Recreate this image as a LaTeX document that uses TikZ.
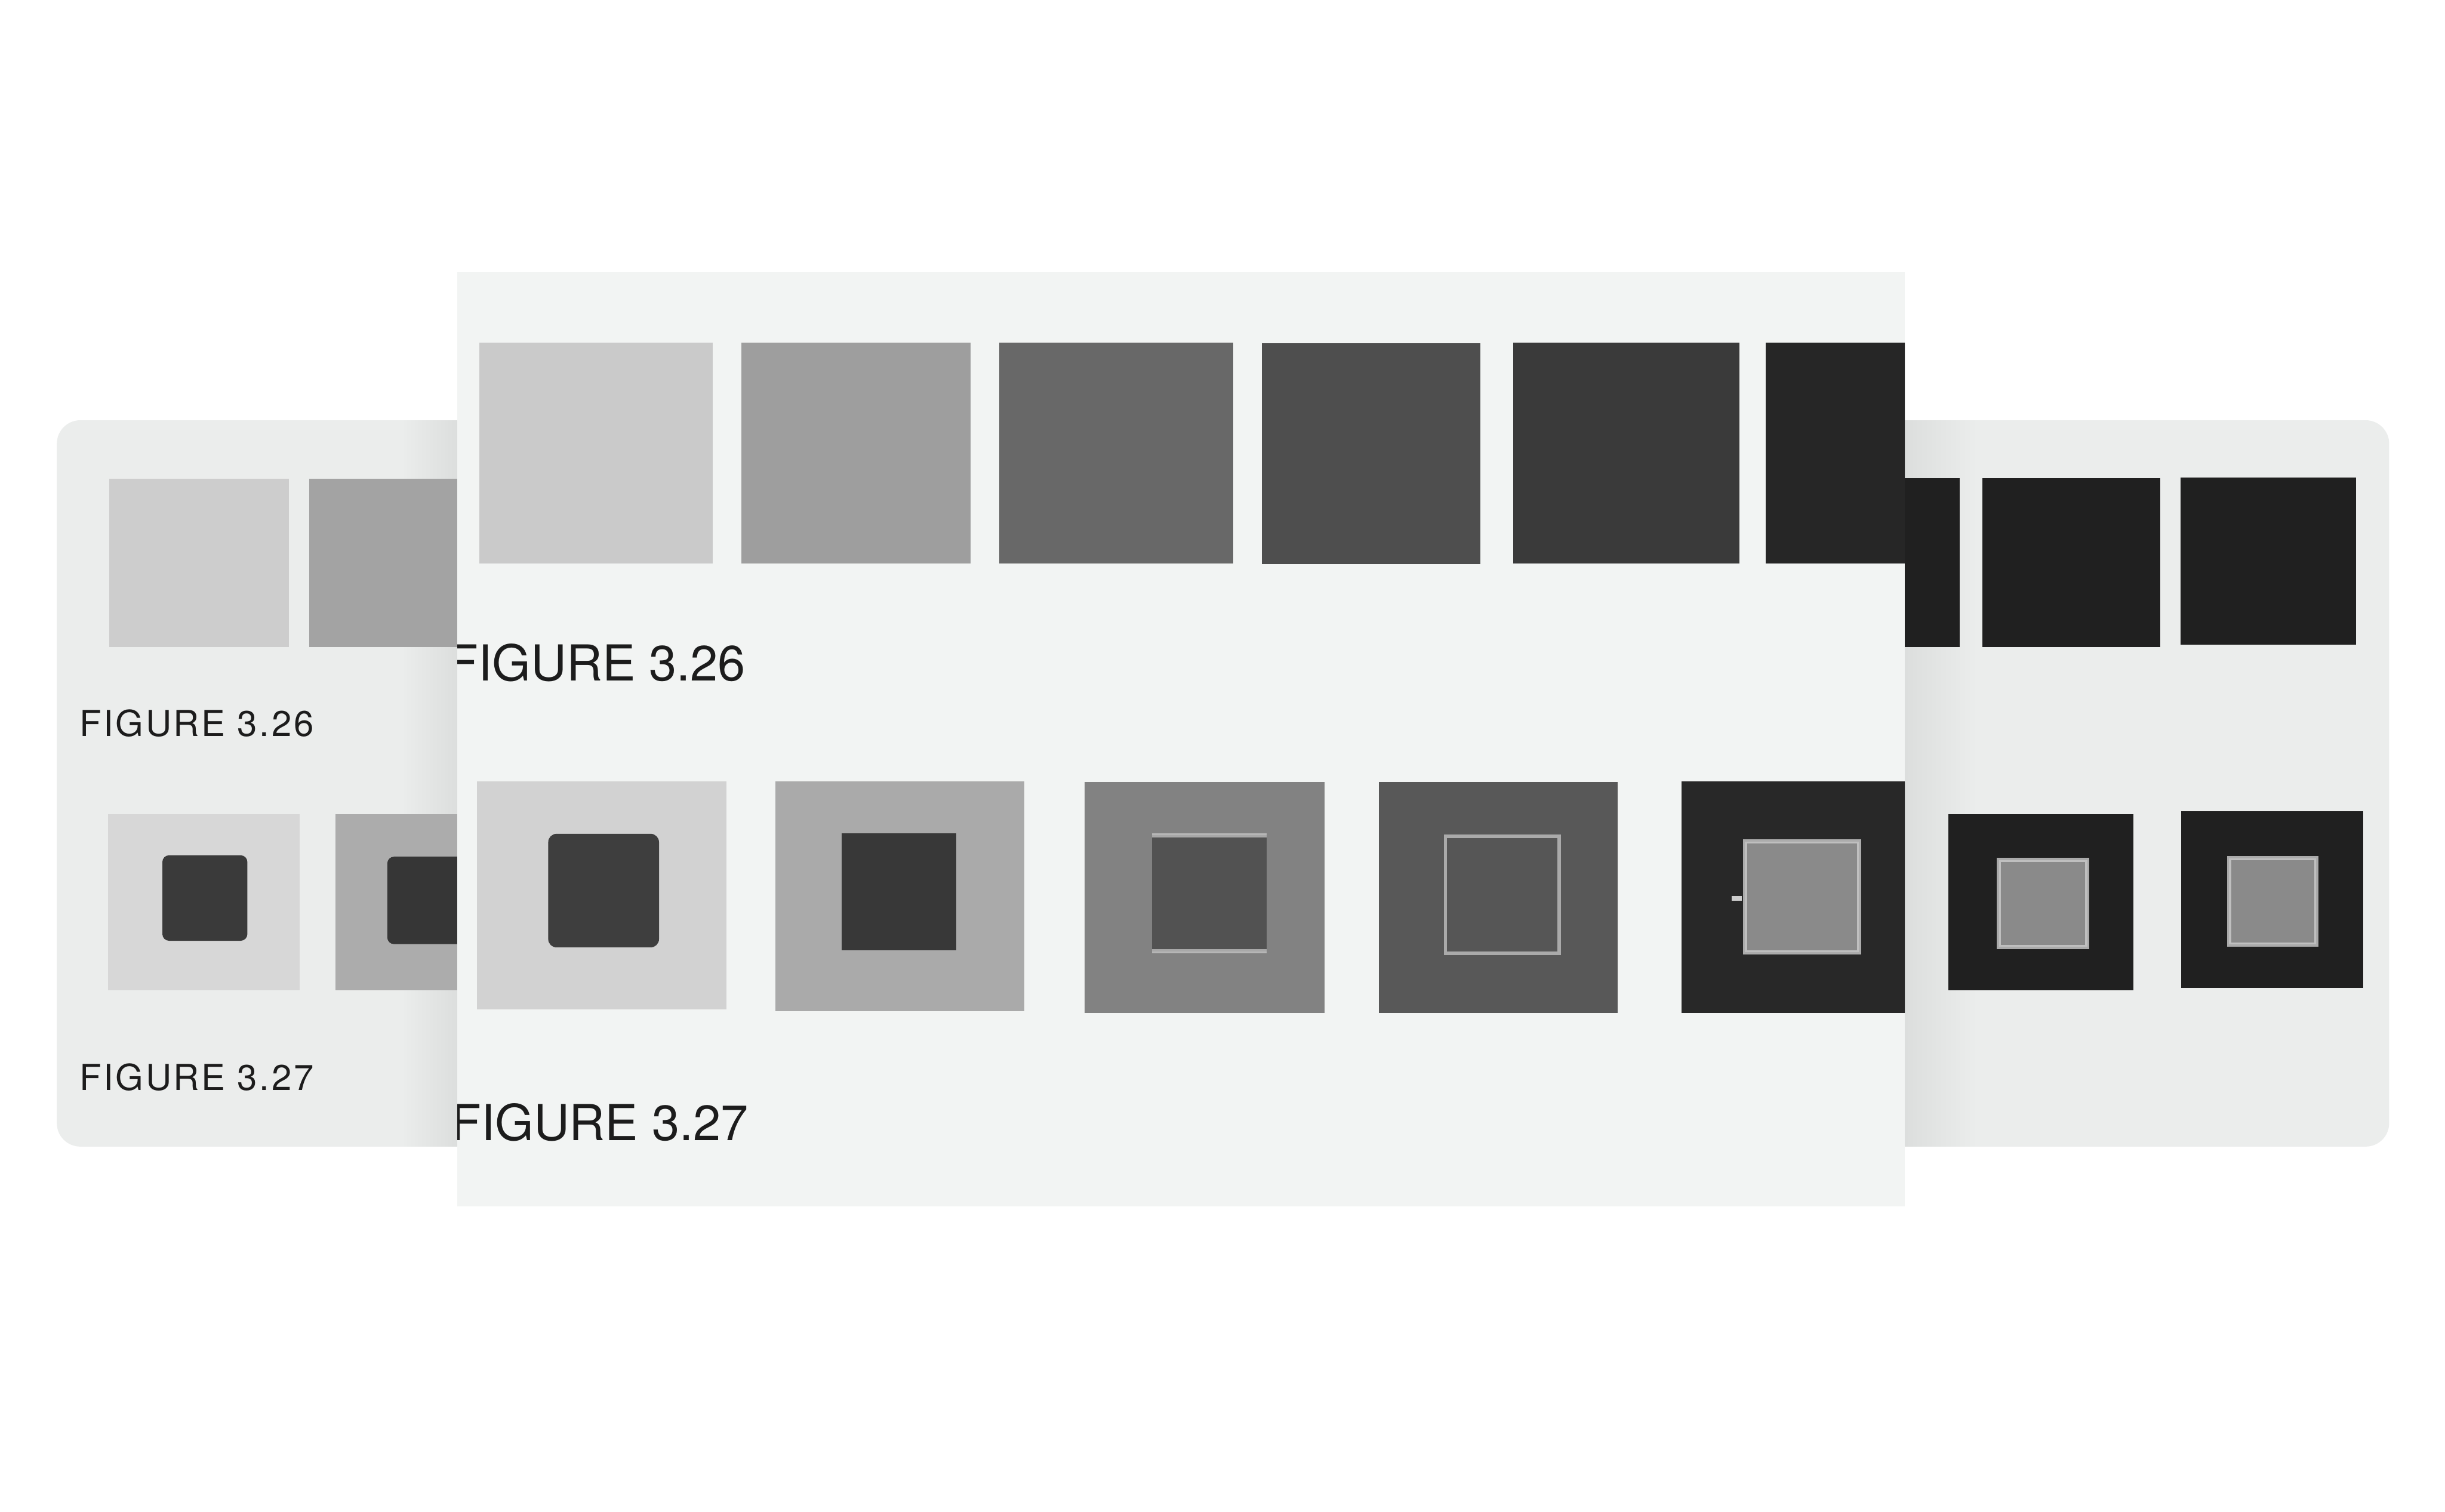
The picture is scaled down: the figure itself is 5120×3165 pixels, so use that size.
\documentclass[tikz,border=0pt]{standalone}
\usepackage{fontspec}
\setmainfont{TeX Gyre Heros}
\definecolor{smallpage}{RGB}{235,237,236}
\definecolor{shadowc}{RGB}{220,222,221}
\definecolor{centerpage}{RGB}{242,244,243}
\definecolor{inkc}{RGB}{28,28,28}
% centre page, top row
\definecolor{tA}{RGB}{202,202,202}
\definecolor{tB}{RGB}{158,158,158}
\definecolor{tC}{RGB}{104,104,104}
\definecolor{tD}{RGB}{78,78,78}
\definecolor{tE}{RGB}{58,58,58}
\definecolor{tF}{RGB}{38,38,38}
% centre page, bottom row
\definecolor{bA}{RGB}{210,210,210}
\definecolor{bAi}{RGB}{62,62,62}
\definecolor{bB}{RGB}{170,170,170}
\definecolor{bBi}{RGB}{56,56,56}
\definecolor{bC}{RGB}{130,130,130}
\definecolor{bCi}{RGB}{82,82,82}
\definecolor{bD}{RGB}{88,88,88}
\definecolor{bDi}{RGB}{86,86,86}
\definecolor{bE}{RGB}{40,40,40}
\definecolor{bEi}{RGB}{138,138,138}
% small page
\definecolor{sA}{RGB}{205,205,205}
\definecolor{sB}{RGB}{163,163,163}
\definecolor{sAo}{RGB}{215,215,215}
\definecolor{sAi}{RGB}{58,58,58}
\definecolor{sBo}{RGB}{172,172,172}
\definecolor{sBi}{RGB}{54,54,54}
\definecolor{sD}{RGB}{32,32,32}
\definecolor{sDi}{RGB}{138,138,138}
\definecolor{edgec}{RGB}{205,205,205}
\begin{document}
\begin{tikzpicture}[x=0.01cm,y=-0.01cm,
  bigcap/.style={inner sep=0pt,text=inkc,font=\fontsize{29.5}{34}\selectfont},
  smallcap/.style={inner sep=0pt,text=inkc,font=\fontsize{21.3}{26}\selectfont\addfontfeature{LetterSpace=6}},
  lightedge/.style={draw=edgec,draw opacity=0.8,line width=2.5}]
\useasboundingbox (0,0) rectangle (5120,3165);
\fill[white] (0,0) rectangle (5120,3165);

% ---------- small page behind ----------
\fill[smallpage,rounded corners=14] (119,880) rectangle (5003,2401);
\shade[left color=smallpage,right color=shadowc] (840,880) rectangle (958,2401);
\shade[left color=shadowc,right color=smallpage] (3989,880) rectangle (4140,2401);

% left visible part
\fill[sA] (229,1003) rectangle (605,1355);
\fill[sB] (648,1003) rectangle (1030,1355);
\fill[sAo] (226,1705) rectangle (627,2074);
\fill[sAi,rounded corners=4] (340,1791) rectangle (518,1970);
\fill[sBo] (703,1705) rectangle (1100,2074);
\fill[sBi,rounded corners=4] (811,1794) rectangle (1000,1977);
\node[smallcap,anchor=base west] (s326) at (166,1542) {FIGURE 3.26};
\node[smallcap,anchor=base west] (s327) at (166,2283) {FIGURE 3.27};

% right visible part
\fill[sD] (3900,1001) rectangle (4104,1355);
\fill[sD] (4151,1001) rectangle (4524,1355);
\fill[sD] (4566,1000) rectangle (4934,1350);
\fill[sD] (4080,1705) rectangle (4468,2074);
\fill[sDi,lightedge] (4186,1801) rectangle (4371,1983);
\fill[sD] (4568,1699) rectangle (4949,2069);
\fill[sDi,lightedge] (4668,1797) rectangle (4850,1978);

% ---------- enlarged centre page ----------
\fill[centerpage] (958,570) rectangle (3989,2526);
\begin{scope}
\clip (958,570) rectangle (3989,2526);
% top row (figure 3.26)
\fill[tA] (1004,718) rectangle (1493,1180);
\fill[tB] (1553,718) rectangle (2033,1180);
\fill[tC] (2093,718) rectangle (2583,1180);
\fill[tD] (2643,719) rectangle (3100,1181);
\fill[tE] (3169,718) rectangle (3643,1180);
\fill[tF] (3697,718) rectangle (4150,1180);
\node[bigcap,anchor=base east] (c326) at (1562,1425) {FIGURE 3.26};
% bottom row (figure 3.27)
\fill[bA] (999,1636) rectangle (1521,2114);
\fill[bAi,rounded corners=5] (1148,1746) rectangle (1380,1984);
\fill[bB] (1624,1636) rectangle (2145,2118);
\fill[bBi] (1762,1745) rectangle (2002,1990);
\fill[bC] (2271,1637) rectangle (2774,2121);
\fill[bCi] (2412,1749) rectangle (2653,1992);
\draw[edgec,draw opacity=0.7,line width=2.5] (2412,1749) -- (2653,1749) (2412,1992) -- (2653,1992);
\fill[bD] (2887,1637) rectangle (3388,2121);
\fill[bDi,draw=edgec!70!bD,line width=2] (3027,1751) rectangle (3265,1996);
\fill[bE] (3521,1636) rectangle (4100,2121);
\fill[bEi,lightedge] (3654,1762) rectangle (3893,1994);
\draw[edgec,line width=3] (3626,1881) -- (3648,1881);
\node[bigcap,anchor=base east] (c327) at (1568,2388) {FIGURE 3.27};
\end{scope}
\end{tikzpicture}
\end{document}
